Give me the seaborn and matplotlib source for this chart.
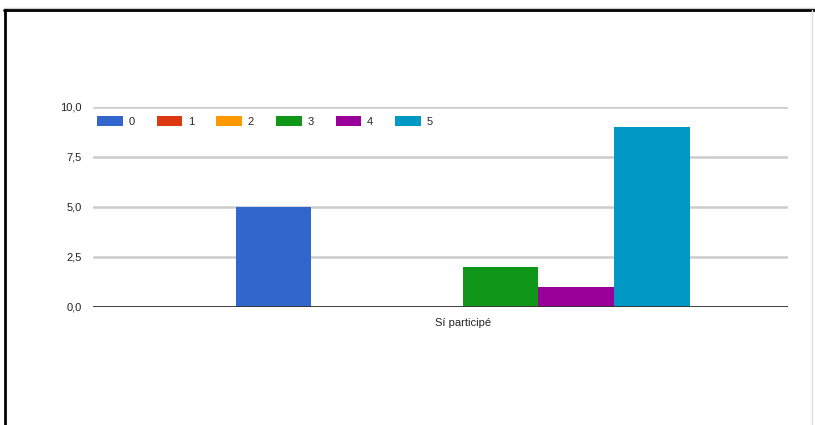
# Import libraries

import pandas as pd
import matplotlib
matplotlib.use("Agg")
import matplotlib.pyplot as plt
import seaborn as sns
from matplotlib.ticker import FuncFormatter
from matplotlib.lines import Line2D

# Data

categoria = ["Sí participé"]
series = ["0", "1", "2", "3", "4", "5"]
valores = [5, 0, 0, 2, 1, 9]
colores = ["#3366cc", "#dc3912", "#ff9900", "#109618", "#990099", "#0099c6"]
y_ticks = [0, 2.5, 5, 7.5, 10]

df = pd.DataFrame({
    "respuesta": categoria * len(series),
    "serie": series,
    "valor": valores
})

# Figure

sns.set_style("white")
plt.rcParams["font.family"] = ["Liberation Sans", "DejaVu Sans"]

W, H = 815, 425
fig = plt.figure(figsize=(W / 100, H / 100), dpi=100)
ax = fig.add_axes([93 / W, 1 - 307 / H, (788 - 93) / W, 200 / H])

sns.barplot(
    data=df,
    x="respuesta",
    y="valor",
    hue="serie",
    palette=colores,
    width=454 / 695,
    saturation=1,
    linewidth=0,
    ax=ax
)

ax.set_xlim(-0.532, 0.468)
ax.set_ylim(0, 10)
ax.set_yticks(y_ticks)
ax.yaxis.set_major_formatter(FuncFormatter(lambda v, p: f"{v:.1f}".replace(".", ",")))
ax.grid(axis="y", color="#cccccc", linewidth=1.8)
ax.set_axisbelow(True)
ax.axhline(0, color="#333333", linewidth=2, zorder=5)
for s in ax.spines.values():
    s.set_visible(False)
ax.tick_params(axis="both", length=0, labelsize=8, colors="#222222")
ax.tick_params(axis="y", pad=8)
ax.tick_params(axis="x", pad=8)
ax.set_xlabel("")
ax.set_ylabel("")

# Legend

handles, labels = ax.get_legend_handles_labels()
ax.legend(
    handles, labels,
    loc="upper left",
    bbox_to_anchor=(0, 0.975),
    ncol=6,
    frameon=False,
    fontsize=8,
    handlelength=2.3,
    handleheight=0.9,
    handletextpad=0.5,
    columnspacing=2.0,
    borderaxespad=0
)

# Frame around image

fig.add_artist(Line2D([4 / W, 1], [1 - 8 / H, 1 - 8 / H], color="#cccccc", linewidth=1, transform=fig.transFigure))
fig.add_artist(Line2D([4 / W, 1], [1 - 10 / H, 1 - 10 / H], color="black", linewidth=2, transform=fig.transFigure))
fig.add_artist(Line2D([5 / W, 5 / W], [0, 1 - 10 / H], color="black", linewidth=2, transform=fig.transFigure))
fig.add_artist(Line2D([812 / W, 812 / W], [0, 1 - 10 / H], color="#dddddd", linewidth=1, transform=fig.transFigure))

fig.savefig("out.png", dpi=100)
